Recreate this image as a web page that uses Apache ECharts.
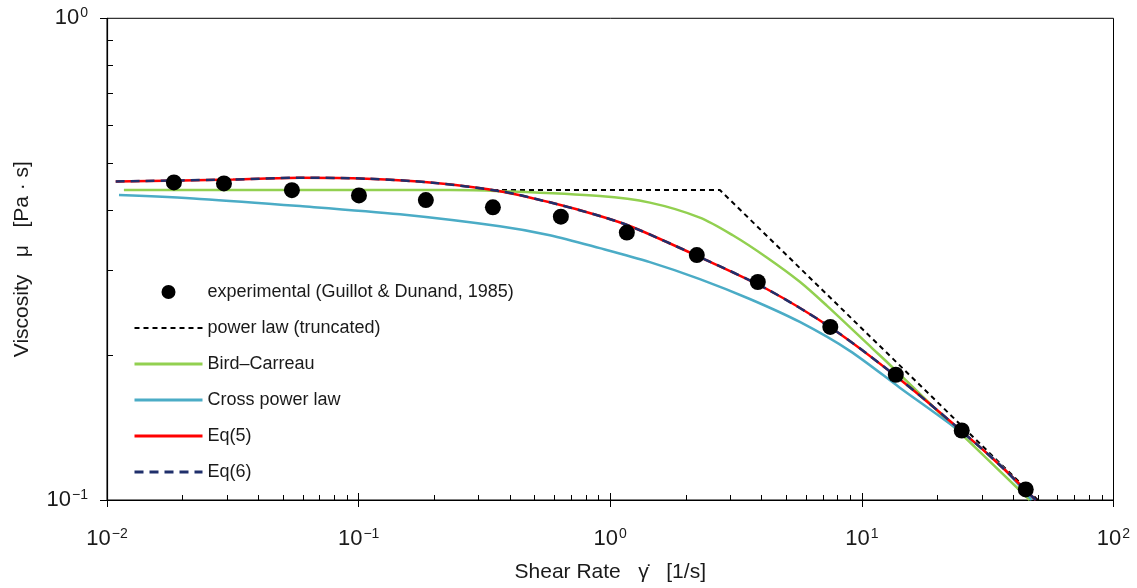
<!DOCTYPE html>
<html lang="en">
<head>
<meta charset="UTF-8">
<title>Viscosity vs shear rate</title>
<script src="https://cdn.jsdelivr.net/npm/echarts@6/dist/echarts.min.js"></script>
<style>
    * { margin: 0; padding: 0; }
    body { background: #fff; }
</style>
</head>
<body>
<div id="chart" style="width:1137px;height:588px;"></div>
<script>
    // tick labels (exponents of 10)
    var xTicks = [0.01, 0.1, 1, 10, 100];
    var xTickExp = ['\u22122', '\u22121', '0', '1', '2'];
    var yTicks = [0.1, 1];
    var yTickExp = ['\u22121', '0'];
    var minorSteps = [2, 3, 4, 5, 6, 7, 8, 9];

    // experimental points
    var expX = [0.01845, 0.02916, 0.0543, 0.1003, 0.185, 0.3417, 0.6364, 1.164, 2.208, 3.858, 7.49, 13.64, 24.94, 44.8];
    var expY = [0.4563, 0.4541, 0.4398, 0.4288, 0.4194, 0.4051, 0.3875, 0.3591, 0.3224, 0.2835, 0.2287, 0.182, 0.1394, 0.1052];

    // power law (truncated)
    var powX = [0.01168, 2.727, 50.0];
    var powY = [0.44, 0.44, 0.1];

    // Bird-Carreau
    var birdX = [0.01168, 0.2306, 0.364, 0.9093, 1.437, 2.270, 3.069, 4.189, 5.667, 7.253, 11.05, 12.91, 24.04, 46.5];
    var birdY = [0.44, 0.44, 0.4377, 0.4275, 0.4143, 0.3857, 0.3545, 0.3188, 0.2838, 0.2532, 0.206, 0.1909, 0.1394, 0.1];

    // Cross power law
    var crossX = [0.01116, 0.02342, 0.0585, 0.1459, 0.364, 0.5754, 0.9093, 1.437, 2.270, 3.586, 5.667, 8.951, 14.15, 24.94, 35.31, 47.3];
    var crossY = [0.4295, 0.4218, 0.4076, 0.3918, 0.3700, 0.3545, 0.3333, 0.3118, 0.2875, 0.2614, 0.2342, 0.2040, 0.1711, 0.1380, 0.1186, 0.1];

    // Eq(5) and Eq(6) (overlapping)
    var eqX = [0.01083, 0.03167, 0.0585, 0.1079, 0.1973, 0.364, 0.5754, 0.9093, 1.23, 2.270, 4.189, 7.663, 14.15, 24.94, 35.31, 49.1];
    var eqY = [0.4585, 0.4628, 0.4667, 0.4645, 0.4556, 0.4377, 0.4149, 0.3887, 0.3683, 0.3193, 0.2742, 0.2265, 0.1781, 0.1390, 0.1182, 0.1];

    function pairs(xs, ys) {
        return xs.map(function (x, i) { return [x, ys[i]]; });
    }
    function minors(majors) {
        var out = [];
        for (var i = 0; i < majors.length - 1; i++) {
            minorSteps.forEach(function (m) { out.push(+(majors[i] * m).toPrecision(3)); });
        }
        return out;
    }
    function expIndex(ticks, v) {
        for (var i = 0; i < ticks.length; i++) {
            if (Math.abs(Math.log10(v) - Math.log10(ticks[i])) < 1e-6) return i;
        }
        return -1;
    }

    var font = 'Liberation Sans, Arial, sans-serif';
    var ink = '#1a1a1a';
    var supRich = {
        b: { fontSize: 22, color: ink, fontFamily: font },
        s: { fontSize: 14, color: ink, fontFamily: font, padding: [0, 0, 10, 1] }
    };

    var chart = echarts.init(document.getElementById('chart'));
    var option = {
        animation: false,
        textStyle: { fontFamily: font },
        grid: {
            left: 107, right: 23.5, top: 18.3, bottom: 86.3,
            show: true, borderColor: '#000', borderWidth: 1
        },
        legend: {
            orient: 'vertical',
            left: 128, top: 278,
            itemWidth: 68, itemHeight: 14, itemGap: 18,
            itemStyle: { opacity: 0 },
            textStyle: { fontSize: 18, color: ink, fontFamily: font },
            data: [
                { name: 'experimental (Guillot & Dunand, 1985)', icon: 'circle', itemStyle: { opacity: 1 } },
                { name: 'power law (truncated)', lineStyle: { width: 2 } },
                { name: 'Bird\u2013Carreau', lineStyle: { width: 3 } },
                { name: 'Cross power law', lineStyle: { width: 3 } },
                { name: 'Eq(5)', lineStyle: { width: 3 } },
                { name: 'Eq(6)', lineStyle: { width: 3 } }
            ]
        },
        xAxis: [{
            type: 'log', logBase: 10, min: 0.01, max: 100,
            position: 'bottom',
            name: 'Shear Rate   \u03b3\u0307   [1/s]',
            nameLocation: 'middle', nameGap: 62,
            nameTextStyle: { fontSize: 21, color: ink, fontFamily: font },
            axisLine: { lineStyle: { color: '#000', width: 1.2 } },
            axisTick: { inside: false, length: 7, lineStyle: { color: '#000' } },
            axisLabel: {
                margin: 27,
                formatter: function (v) { return '{b|10}{s|' + xTickExp[expIndex(xTicks, v)] + '}'; },
                rich: supRich
            },
            splitLine: { show: false }
        }, {
            type: 'log', logBase: 10, min: 0.01, max: 100, position: 'bottom',
            axisLine: { show: false },
            axisTick: { inside: true, length: 7, lineStyle: { color: '#000' } },
            axisLabel: { show: false }, splitLine: { show: false }
        }, {
            type: 'log', logBase: 10, min: 0.01, max: 100, position: 'bottom',
            axisLine: { show: false },
            axisTick: { inside: true, length: 5, customValues: minors(xTicks), lineStyle: { color: '#000' } },
            axisLabel: { show: false }, splitLine: { show: false }
        }],
        yAxis: [{
            type: 'log', logBase: 10, min: 0.1, max: 1,
            position: 'left',
            name: 'Viscosity   \u03bc   [Pa \u00b7 s]',
            nameLocation: 'middle', nameGap: 74,
            nameTextStyle: { fontSize: 21, color: ink, fontFamily: font },
            axisLine: { lineStyle: { color: '#000', width: 1.2 } },
            axisTick: { inside: false, length: 7, lineStyle: { color: '#000' } },
            axisLabel: {
                margin: 19,
                formatter: function (v) { return '{b|10}{s|' + yTickExp[expIndex(yTicks, v)] + '}'; },
                rich: supRich
            },
            splitLine: { show: false }
        }, {
            type: 'log', logBase: 10, min: 0.1, max: 1, position: 'left',
            axisLine: { show: false },
            axisTick: { inside: true, length: 6, customValues: minors(yTicks), lineStyle: { color: '#000' } },
            axisLabel: { show: false }, splitLine: { show: false }
        }],
        series: [{
            name: 'power law (truncated)', type: 'line', symbol: 'none', z: 2,
            data: pairs(powX, powY),
            lineStyle: { color: '#000', width: 2, type: [5, 4] },
            itemStyle: { color: '#000' }
        }, {
            name: 'Bird\u2013Carreau', type: 'line', symbol: 'none', smooth: 0.3, z: 3,
            data: pairs(birdX, birdY),
            lineStyle: { color: '#92d050', width: 2.5 },
            itemStyle: { color: '#92d050' }
        }, {
            name: 'Cross power law', type: 'line', symbol: 'none', smooth: 0.3, z: 3,
            data: pairs(crossX, crossY),
            lineStyle: { color: '#4bacc6', width: 2.5 },
            itemStyle: { color: '#4bacc6' }
        }, {
            name: 'Eq(5)', type: 'line', symbol: 'none', smooth: 0.3, z: 4,
            data: pairs(eqX, eqY),
            lineStyle: { color: '#ff0000', width: 2.5 },
            itemStyle: { color: '#ff0000' }
        }, {
            name: 'Eq(6)', type: 'line', symbol: 'none', smooth: 0.3, z: 5,
            data: pairs(eqX, eqY),
            lineStyle: { color: '#1f2f6b', width: 2.5, type: [9, 6] },
            itemStyle: { color: '#1f2f6b' }
        }, {
            name: 'experimental (Guillot & Dunand, 1985)', type: 'scatter', z: 6,
            symbol: 'circle', symbolSize: 16,
            data: pairs(expX, expY),
            itemStyle: { color: '#000', opacity: 1 }
        }]
    };
    chart.setOption(option);
</script>
</body>
</html>
